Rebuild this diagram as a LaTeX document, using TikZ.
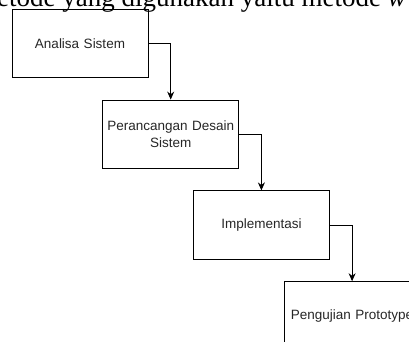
\documentclass[tikz,border=0pt]{standalone}
\usepackage{fontspec}
\setmainfont{Liberation Sans}
\newfontfamily\judulfont{Liberation Serif}
\usetikzlibrary{arrows.meta}
\begin{document}
\begin{tikzpicture}[x=1pt, y=1pt, >={Stealth[length=8pt,width=7pt]},
    box/.style={draw, line width=0.9pt, minimum width=136pt, minimum height=68.5pt,
        inner sep=1pt, text width=134pt, align=center,
        font=\fontsize{13.5}{16.5}\selectfont, text=black!85}]
\useasboundingbox (0,0) rectangle (409,-342);
\clip (0,0) rectangle (409,-342);
\node[anchor=base west, inner sep=0pt, font=\judulfont\fontsize{27}{27}\selectfont] (judul) at (-24,-7)
    {metode yang digunakan yaitu metode \textit{w}};

\foreach \i/\t in {1/{Analisa Sistem}, 2/{Perancangan Desain\\Sistem}, 3/{Implementasi}, 4/{Pengujian Prototype}}
{
    \node[box] (b\i) at ({80+90.7*(\i-1)}, {-43.5-90.8*(\i-1)}) {\t};
}
\foreach \i/\j in {1/2,2/3,3/4}
{
    \draw[->, line width=0.9pt] (b\i.east) -| (b\j.north);
}
\end{tikzpicture}
\end{document}
